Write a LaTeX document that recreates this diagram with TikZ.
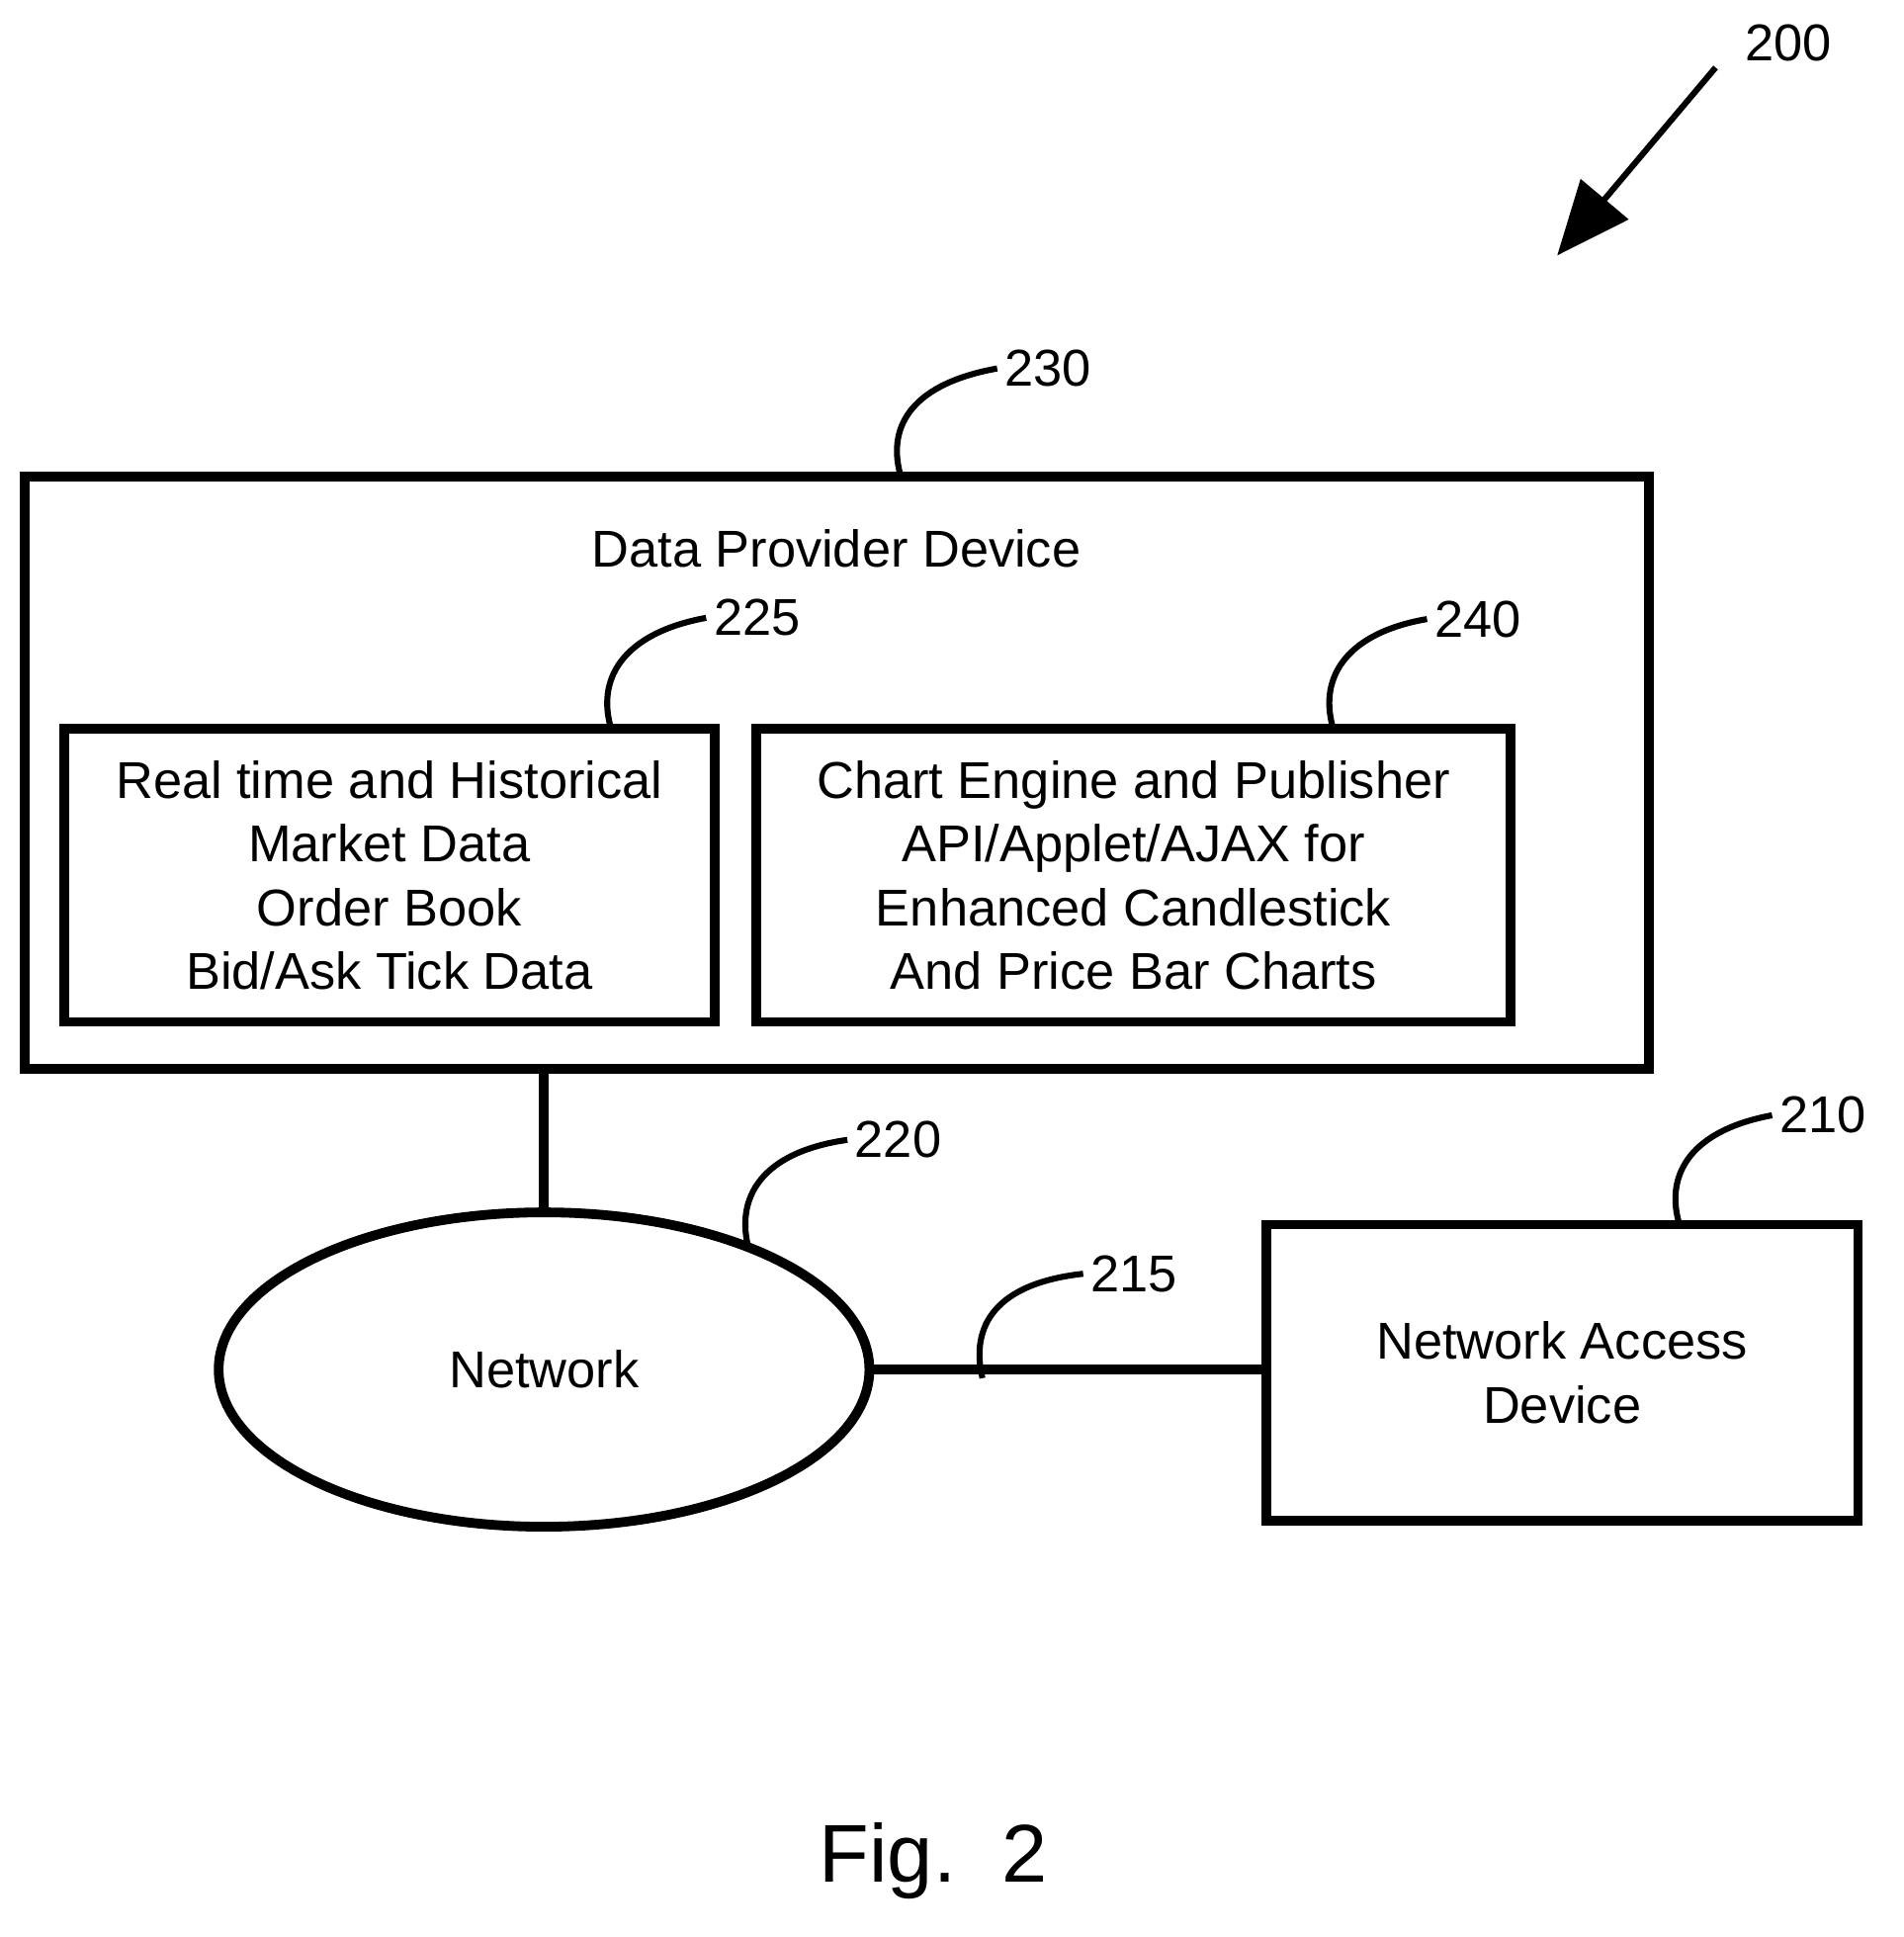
\documentclass[tikz,border=0pt]{standalone}
\usepackage{fontspec}
\setmainfont{Liberation Sans}
\usetikzlibrary{shapes.geometric,arrows.meta}
\begin{document}
\begin{tikzpicture}[x=0.02cm,y=-0.02cm,
  box/.style={draw,line width=4.5pt,inner sep=0pt,align=center,font=\fontsize{24}{29.5}\selectfont},
  lead/.style={line width=2.8pt},
  lab/.style={font=\fontsize{24}{29}\selectfont,anchor=west}]
\useasboundingbox (0,0) rectangle (1550,1577);
\node[box,minimum width=26.46cm,minimum height=9.64cm] (dpd) at (681.5,629) {};
\node[font=\fontsize{24}{29}\selectfont] (title) at (681,447) {Data Provider Device};
\node[box,minimum width=10.6cm,minimum height=4.78cm] (b225) at (317,712.5) {Real time and Historical\\Market Data\\Order Book\\Bid/Ask Tick Data};
\node[box,minimum width=12.28cm,minimum height=4.78cm] (b240) at (923,712.5) {Chart Engine and Publisher\\API/Applet/AJAX for\\Enhanced Candlestick\\And Price Bar Charts};
\node[box,ellipse,minimum width=10.6cm,minimum height=5.12cm] (net) at (443,1115) {Network};
\node[box,minimum width=9.64cm,minimum height=4.82cm] (nad) at (1272,1117.5) {Network Access\\Device};
\draw[line width=4.5pt] (net.north |- dpd.south) -- (net.north);
\draw[line width=4.5pt] (net.east) -- (net.east -| nad.west);
% labels
\node[lab] (l230) at (812,300) {230};
\node[lab] (l225) at (575,503) {225};
\node[lab] (l240) at (1162,504) {240};
\node[lab] (l220) at (690,928) {220};
\node[lab] (l215) at (882,1037) {215};
\node[lab] (l210) at (1443,908) {210};
\node[lab] (l200) at (1415,35) {200};
\coordinate (s230) at (733,386);
\coordinate (s225) at (497,591);
\coordinate (s240) at (1085,591);
\coordinate (s220) at (610,1018);
\coordinate (s215) at (800,1122);
\coordinate (s210) at (1367,995);
\draw[lead] (s230) .. controls (722,345) and (745,312) .. (l230.west);
\draw[lead] (s225) .. controls (486,550) and (510,515) .. (l225.west);
\draw[lead] (s240) .. controls (1074,550) and (1098,515) .. (l240.west);
\draw[lead] (s220) .. controls (598,975) and (620,938) .. (l220.west);
\draw[lead] (s215) .. controls (790,1080) and (810,1045) .. (l215.west);
\draw[lead] (s210) .. controls (1356,955) and (1378,920) .. (l210.west);
\coordinate (a0) at (1397,55);
\coordinate (a1) at (1268,208);
\draw[line width=2.8pt,-{Triangle[length=1.2cm,width=1.0cm]}] (a0) -- (a1);
\node[font=\fontsize{38}{44}\selectfont] (fig) at (760,1515) {Fig.\ \ 2};
\end{tikzpicture}
\end{document}
